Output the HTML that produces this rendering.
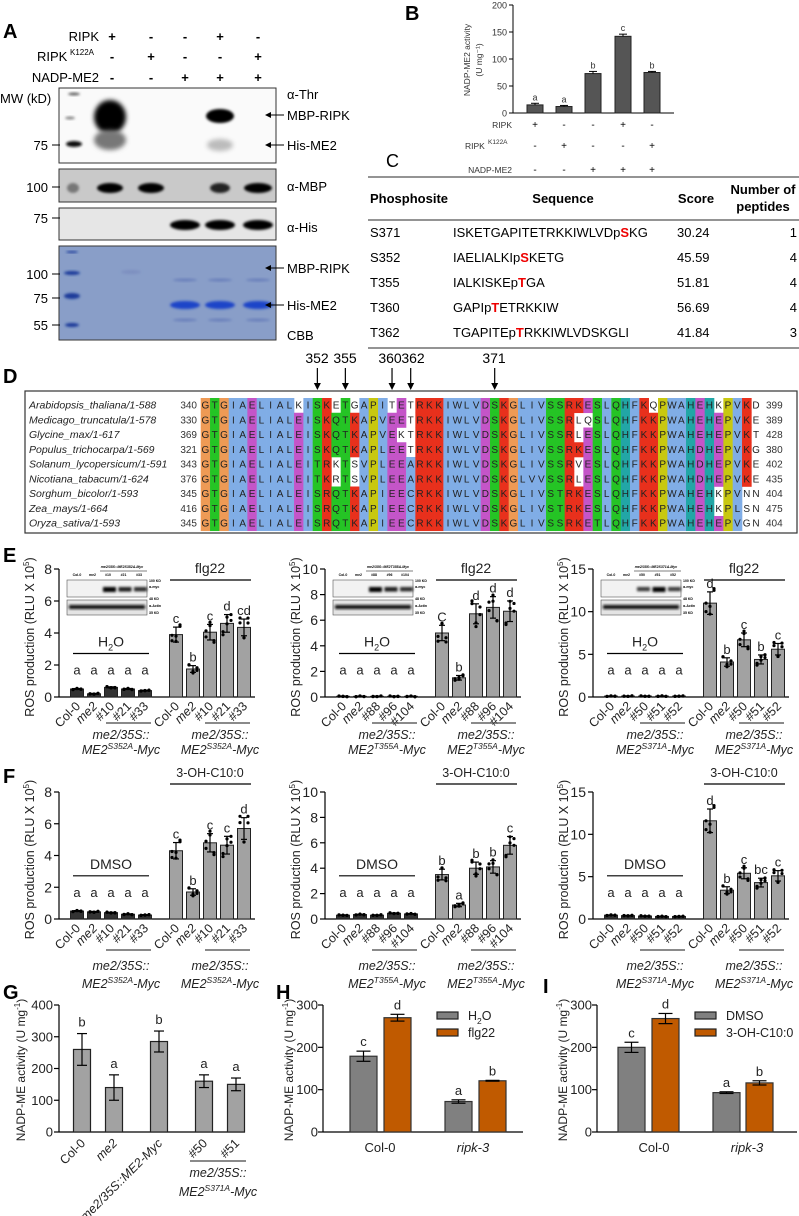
<!DOCTYPE html>
<html><head><meta charset="utf-8">
<style>
html,body{margin:0;padding:0;background:#fff;}
svg{display:block;font-family:"Liberation Sans",Arial,sans-serif;}
</style></head>
<body>
<svg id="s" width="799" height="1216" viewBox="0 0 799 1216" xmlns="http://www.w3.org/2000/svg">
<defs>
<filter id="bl" x="-50%" y="-50%" width="200%" height="200%"><feGaussianBlur stdDeviation="2.5"/></filter>
<filter id="bl1" x="-50%" y="-50%" width="200%" height="200%"><feGaussianBlur stdDeviation="1.2"/></filter>
<marker id="ar" markerWidth="6" markerHeight="6" refX="5" refY="3" orient="auto"><path d="M0,0 L6,3 L0,6 z" fill="#000"/></marker>
</defs>
<g id="root"></g>
</svg>
<script>
const NS="http://www.w3.org/2000/svg";
const root=document.getElementById('root');
function el(t,a,txt,parent){const e=document.createElementNS(NS,t);for(const k in a)e.setAttribute(k,a[k]);if(txt!==undefined)e.textContent=txt;(parent||root).appendChild(e);return e;}
function T(x,y,s,o){o=o||{};const a={x:x,y:y,'font-size':o.fs||12,fill:o.fill||'#000'};if(o.anchor)a['text-anchor']=o.anchor;if(o.it)a['font-style']='italic';if(o.b)a['font-weight']='bold';if(o.tr)a.transform=o.tr;if(o.ff)a['font-family']=o.ff;return el('text',a,s);}
function L(x1,y1,x2,y2,w,c){return el('line',{x1:x1,y1:y1,x2:x2,y2:y2,stroke:c||'#000','stroke-width':w||1});}
function R(x,y,w,h,f,st,sw){return el('rect',{x:x,y:y,width:w,height:h,fill:f,stroke:st||'none','stroke-width':sw||1});}

// ---------- Panel letters
T(3,38,'A',{fs:20,b:1});T(405,20,'B',{fs:20,b:1});T(386,167,'C',{fs:18});
T(3,383,'D',{fs:20,b:1});T(3,562,'E',{fs:20,b:1});T(3,783,'F',{fs:20,b:1});
T(3,999,'G',{fs:20,b:1});T(276,999,'H',{fs:20,b:1});T(543,993,'I',{fs:20,b:1});

// ---------- Panel A
const lanes=[112,151,185,220,258];
const hdr=[['RIPK',41,['+','-','-','+','-']],['RIPK',61,['-','+','-','-','+']],['NADP-ME2',82,['-','-','+','+','+']]];
hdr.forEach((h,i)=>{if(i==1){T(37,h[1],'RIPK',{fs:13});T(70,h[1]-6,'K122A',{fs:8});}else T(99,h[1],h[0],{fs:13,anchor:'end'});
 h[2].forEach((s,j)=>T(lanes[j],h[1],s,{fs:13,anchor:'middle',b:1}));});
T(0,103,'MW (kD)',{fs:13});
R(59,88,217,75,'#fafafa','#333',1);
el('ellipse',{cx:110,cy:117,rx:16,ry:17,fill:'#000',filter:'url(#bl)'});
el('ellipse',{cx:110,cy:140,rx:16,ry:10,fill:'#777',filter:'url(#bl)'});
el('ellipse',{cx:220,cy:116,rx:14,ry:7,fill:'#000',filter:'url(#bl1)'});
el('ellipse',{cx:220,cy:145,rx:13,ry:6,fill:'#bbb',filter:'url(#bl)'});
el('ellipse',{cx:74,cy:144,rx:8,ry:3,fill:'#111',filter:'url(#bl1)'});
el('ellipse',{cx:74,cy:94,rx:6,ry:1.5,fill:'#666',filter:'url(#bl1)'});
el('ellipse',{cx:70,cy:118,rx:5,ry:1.5,fill:'#888',filter:'url(#bl1)'});
R(59,169,217,33,'#c9c9c9','#333',1);
[[110,13,'#000'],[151,13,'#000'],[220,10,'#222'],[258,14,'#000'],[73,6,'#777']].forEach(b=>el('ellipse',{cx:b[0],cy:188,rx:b[1],ry:5,fill:b[2],filter:'url(#bl1)'}));
R(59,208,217,32,'#e6e6e6','#333',1);
[185,220,258].forEach(x=>el('ellipse',{cx:x,cy:225,rx:15,ry:5,fill:'#000',filter:'url(#bl1)'}));
R(59,246,217,94,'#90a4cc','#333',1);
el('rect',{x:60,y:247,width:215,height:92,fill:'#7f96c4',opacity:0.4});
[[72,273,8,2],[72,296,8,3],[72,325,7,2],[72,252,6,1]].forEach(b=>el('ellipse',{cx:b[0],cy:b[1],rx:b[2],ry:b[3],fill:'#1a3a9a',filter:'url(#bl1)'}));
[185,220,258].forEach(x=>{el('ellipse',{cx:x,cy:305,rx:15,ry:4,fill:'#1b45c8',filter:'url(#bl1)'});el('ellipse',{cx:x,cy:280,rx:12,ry:1.5,fill:'#6a80bb',filter:'url(#bl1)'});el('ellipse',{cx:x,cy:320,rx:12,ry:1.5,fill:'#6a80bb',filter:'url(#bl1)'});});
el('ellipse',{cx:131,cy:272,rx:10,ry:2,fill:'#7d8fc0',filter:'url(#bl1)'});
[[75,145],[100,187],[75,218],[100,274],[75,298],[55,325]].forEach(m=>{T(48,m[1]+5,String(m[0]),{fs:13,anchor:'end'});L(52,m[1],60,m[1],1);});
T(287,99,'α-Thr',{fs:13});T(287,191,'α-MBP',{fs:13});T(287,232,'α-His',{fs:13});T(287,340,'CBB',{fs:13});
[[115,'MBP-RIPK'],[145,'His-ME2'],[268,'MBP-RIPK'],[305,'His-ME2']].forEach(a=>{L(284,a[0],266,a[0],1).setAttribute('marker-end','url(#ar)');T(287,a[0]+5,a[1],{fs:13});});

// ---------- Panel B
(function(){const ax=513,y0=113,y1=5,sc=(y0-y1)/200;
L(ax,y1,ax,y0);L(ax,y0,674,y0);
[0,50,100,150,200].forEach(v=>{const y=y0-v*sc;L(ax-4,y,ax,y);T(ax-6,y+3.5,String(v),{fs:9,anchor:'end',fill:'#333'});});
const xs=[535,564,593,623,652],vals=[15,12,73,142,75],err=[3,2,4,4,2],let_=['a','a','b','c','b'];
xs.forEach((x,i)=>{const y=y0-vals[i]*sc;R(x-8,y,16,vals[i]*sc,'#555','#222',1);const e=err[i]*sc;L(x,y-e,x,y);L(x-4,y-e,x+4,y-e);T(x,y-e-3,let_[i],{fs:9,anchor:'middle',fill:'#333'});});
T(0,0,'NADP-ME2 activity',{fs:8.5,anchor:'middle',fill:'#333',tr:'translate(470,60) rotate(-90)'});
T(0,0,'(U mg⁻¹)',{fs:8.5,anchor:'middle',fill:'#333',tr:'translate(482,60) rotate(-90)'});
const rows=[['RIPK',128,['+','-','-','+','-']],['RIPK',149,['-','+','-','-','+']],['NADP-ME2',173,['-','-','+','+','+']]];
rows.forEach((r,i)=>{if(i==1){T(465,r[1],'RIPK',{fs:8.5,fill:'#333'});T(488,r[1]-5,'K122A',{fs:6.5,fill:'#333'});}else T(512,r[1],r[0],{fs:8.5,anchor:'end',fill:'#333'});r[2].forEach((s,j)=>T(xs[j],r[1],s,{fs:10,anchor:'middle'}));});
})();

// ---------- Panel C table
L(368,177,799,177,1.3,'#555');L(368,220,799,220,1.3,'#555');L(368,348,799,348,1.3,'#555');
T(370,203,'Phosphosite',{fs:13,b:1});T(563,203,'Sequence',{fs:13,b:1,anchor:'middle'});T(696,203,'Score',{fs:13,b:1,anchor:'middle'});
T(763,194,'Number of',{fs:13,b:1,anchor:'middle'});T(763,211,'peptides',{fs:13,b:1,anchor:'middle'});
const trows=[['S371',['ISKETGAPITETRKKIWLVDp','S','KG'],'30.24','1'],['S352',['IAELIALKIp','S','KETG'],'45.59','4'],['T355',['IALKISKEp','T','GA'],'51.81','4'],['T360',['GAPIp','T','ETRKKIW'],'56.69','4'],['T362',['TGAPITEp','T','RKKIWLVDSKGLI'],'41.84','3']];
trows.forEach((r,i)=>{const y=237+25*i;T(370,y,r[0],{fs:13});const t=T(453,y,'',{fs:13});
 r[1].forEach((p,k)=>{el('tspan',k==1?{fill:'#e00','font-weight':'bold'}:{},p,t);});
 T(677,y,r[2],{fs:13});T(797,y,r[3],{fs:13,anchor:'end'});});

// ---------- Panel D alignment
(function(){
const sp=[['Arabidopsis_thaliana/1-588',340,'GTGIAELIALKISKETGAPITETRKKIWLVDSKGLIVSSRKESLQHFKQPWAHEHKPVKD',399],
['Medicago_truncatula/1-578',330,'GTGIAELIALEISKQTKAPVEETRKKIWLVDSKGLIVSSRLQSLQHFKKPWAHEHEPVKE',389],
['Glycine_max/1-617',369,'GTGIAELIALEISKQTKAPVEKTRKKIWLVDSKGLIVSSRLESLQHFKKPWAHEHEPVKT',428],
['Populus_trichocarpa/1-569',321,'GTGIAELIALEISKQTKAPLEETRKKIWLVDSKGLIVSSRKESLQHFKKPWAHDHEPVKG',380],
['Solanum_lycopersicum/1-591',343,'GTGIAELIALEITRKTSVPLEEARKKIWLVDSKGLIVSSRVESLQHFKKPWAHDHEPVKE',402],
['Nicotiana_tabacum/1-624',376,'GTGIAELIALEITKRTSVPLEEARKKIWLVDSKGLVVSSRLESLQHFKKPWAHDHEPVKE',435],
['Sorghum_bicolor/1-593',345,'GTGIAELIALEISRQTKAPIEECRKKIWLVDSKGLIVSTRKESLQHFKKPWAHEHKPVNN',404],
['Zea_mays/1-664',416,'GTGIAELIALEISRQTKAPIEECRKKIWLVDSKGLIVSTRKESLQHFKKPWAHEHKPLSN',475],
['Oryza_sativa/1-593',345,'GTGIAELIALEISRQTKAPIEECRKKIWLVDSKGLIVSSRKETLQHFKKPWAHEHEPVGN',404]];
const cls=c=>'AILMFWVC'.includes(c)?'h':'KR'.includes(c)?'p':'ED'.includes(c)?'n':'NQST'.includes(c)?'s':c=='G'?'g':c=='P'?'P':'HY'.includes(c)?'y':'x';
const col={h:'#80ade6',p:'#e8301c',n:'#c455c8',s:'#25c425',g:'#ee9a55',P:'#c8c810',y:'#22a6a6'};
R(25,391,772,142,'#fff','#333',1.2);
const x0=200.7,cw=9.333,y0=398,rh=14.75;
for(let j=0;j<60;j++){const cnt={};sp.forEach(s=>{const k=cls(s[2][j]);cnt[k]=(cnt[k]||0)+1;});
 sp.forEach((s,i)=>{const c=s[2][j],k=cls(c);if(k!='x'&&cnt[k]>=5)R(x0+j*cw,y0+i*rh,cw+0.3,rh+0.3,col[k]);});}
sp.forEach((s,i)=>{const y=y0+i*rh+10.5;T(29,y,s[0],{fs:10.5,it:1,fill:'#222'});T(197,y,String(s[1]),{fs:10,anchor:'end',fill:'#333'});
 for(let j=0;j<60;j++)T(x0+j*cw+cw/2,y,s[2][j],{fs:10,anchor:'middle',fill:'#222'});T(766,y,String(s[3]),{fs:10,fill:'#333'});});
[[352,12],[355,15],[360,20],[362,22],[371,31]].forEach(a=>{const x=x0+a[1]*cw+cw/2;L(x,368,x,387,1.2);el('path',{d:`M${x-3.5},383 L${x+3.5},383 L${x},390 z`,fill:'#000'});});
T(317,363,'352',{fs:14,anchor:'middle'});T(345,363,'355',{fs:14,anchor:'middle'});T(390,363,'360',{fs:14,anchor:'middle'});T(413,363,'362',{fs:14,anchor:'middle'});T(494,363,'371',{fs:14,anchor:'middle'});
})();

// ---------- ROS panels
const offC=[18,35,52,69,86],offT=[117,134,151,168,185];
const tickLab=[['Col-0','me2','#10','#21','#33'],['Col-0','me2','#88','#96','#104'],['Col-0','me2','#50','#51','#52']];
const mut=['S352A','T355A','S371A'];
function ros(ax,yT,yB,max,step,ctrl,trt,letC,letT,ctrlName,trtName,gi,E){
 const sc=(yB-yT)/max;
 L(ax,yT,ax,yB,1.2);L(ax,yB,ax+196,yB,1.2);
 for(let v=0;v<=max;v+=step){const y=yB-v*sc;L(ax-5,y,ax,y,1.2);T(ax-7,y+5,String(v),{fs:14,anchor:'end',fill:'#222'});}
 const t=T(0,0,'ROS production (RLU X 10',{fs:12.5,anchor:'middle',fill:'#222',tr:`translate(${ax-25},${(yT+yB)/2+4}) rotate(-90)`});
 el('tspan',{dy:-5,'font-size':8},'5',t);el('tspan',{dy:5},')',t);
 const bar=(x,v)=>{const h=v*sc;R(x-6.5,yB-h,13,h,v<1?'#333':'#a2a2a2','#222',1);
  const e=Math.max(0.12*v,0.05)*sc*(v<1?0.5:1);L(x,yB-h-e,x,yB-h+e,1.2);L(x-3,yB-h-e,x+3,yB-h-e,1.2);L(x-3,yB-h+e,x+3,yB-h+e,1.2);
  for(let k=0;k<6;k++){const dy=(Math.sin(k*2.3+x)*1.3)*e;el('circle',{cx:x+((k%3)-1)*4,cy:yB-h+dy,r:1.6,fill:'#000'});}
  return yB-h-e;};
 const topC=ctrl.map((v,i)=>bar(ax+offC[i],v));
 const topT=trt.map((v,i)=>bar(ax+offT[i],v));
 const lc=yB-(max*0.175)*sc;
 offC.forEach((o,i)=>T(ax+o,Math.min(lc,topC[i]-4),letC[i],{fs:13,anchor:'middle',fill:'#222'}));
 offT.forEach((o,i)=>T(ax+o,topT[i]-4,letT[i],{fs:13,anchor:'middle',fill:'#222'}));
 const cl=yB-(max*0.34)*sc;
 L(ax+14,cl,ax+90,cl,1.2);
 const ct=T(ax+52,cl-7,ctrlName==='H2O'?'H':ctrlName,{fs:14,anchor:'middle',fill:'#222'});
 if(ctrlName==='H2O'){el('tspan',{dy:4,'font-size':9},'2',ct);el('tspan',{dy:-4},'O',ct);}
 const tl=E?yT+11:yT-8;
 L(ax+111,tl,ax+192,tl,1.2);T(ax+151,tl-7,trtName,{fs:E?14:12.5,anchor:'middle',fill:'#222'});
 [offC,offT].forEach(off=>off.forEach((o,i)=>{const lab=tickLab[gi][i];T(0,0,lab,{fs:12.5,anchor:'end',it:lab=='me2',fill:'#222',tr:`translate(${ax+o+4},${yB+10}) rotate(-45)`});}));
 const gl=yB+(E?26:31),g1=yB+(E?42:51),g2=yB+(E?57:69);
 [[offC,ax+62],[offT,ax+161]].forEach(g=>{L(ax+g[0][2]-5,gl,ax+g[0][4]+6,gl,1.2,'#444');
  T(g[1],g1,'me2/35S::',{fs:12.5,it:1,anchor:'middle',fill:'#222'});
  const t2=T(g[1],g2,'ME2',{fs:12.5,it:1,anchor:'middle',fill:'#222'});el('tspan',{dy:-5,'font-size':8.5},mut[gi],t2);el('tspan',{dy:5},'-Myc',t2);});
 if(E){
  const bx=ax+8;R(bx,yT+11,80,17,'#f2f2f2','#555',0.6);R(bx,yT+31,80,15,'#e4e4e4','#555',0.6);
  el('rect',{x:bx+2,y:yT+36,width:76,height:4,fill:'#111',filter:'url(#bl1)'});
  const ints=gi==2?[0,0,0.6,1,0.6]:[0,0,1,0.8,0.7];
  ints.forEach((v,k)=>{if(v>0)el('rect',{x:bx+5+k*15.5,y:yT+18,width:13,height:3+v*2,fill:'#000',opacity:0.4+0.6*v,filter:'url(#bl1)'});});
  ['Col-0','me2',tickLab[gi][2],tickLab[gi][3],tickLab[gi][4]].forEach((s,k)=>T(bx+10+k*15.5,yT+7,s,{fs:3.5,anchor:'middle',b:1}));
  T(bx+55,yT-1,'me2/35S::ME2'+mut[gi]+'-Myc',{fs:3.5,anchor:'middle',b:1,it:1});
  L(bx+33,yT+2,bx+80,yT+2,0.6);
  [['100 KD',yT+13],['α-myc',yT+19],['48 KD',yT+31],['α-Actin',yT+38],['35 KD',yT+45]].forEach(a=>T(bx+82,a[1],a[0],{fs:3.5,b:1}));
 }
}
ros(59,569,697,8,2,[0.5,0.2,0.6,0.5,0.4],[3.9,1.75,4.05,4.6,4.35],['a','a','a','a','a'],['c','b','c','d','cd'],'H2O','flg22',0,true);
ros(325,569,697,10,2,[0.05,0.05,0.05,0.05,0.05],[5.0,1.5,6.5,7.0,6.7],['a','a','a','a','a'],['C','b','d','d','d'],'H2O','flg22',1,true);
ros(593,569,697,15,5,[0.1,0.1,0.1,0.1,0.1],[11,4.1,6.7,4.4,5.6],['a','a','a','a','a'],['d','b','c','b','c'],'H2O','flg22',2,true);
ros(59,792,919,8,2,[0.5,0.45,0.4,0.3,0.25],[4.3,1.7,4.8,4.65,5.7],['a','a','a','a','a'],['c','b','c','c','d'],'DMSO','3-OH-C10:0',0,false);
ros(325,792,919,10,2,[0.3,0.35,0.3,0.45,0.4],[3.5,1.1,4.0,4.1,5.8],['a','a','a','a','a'],['b','a','b','b','c'],'DMSO','3-OH-C10:0',1,false);
ros(593,792,919,15,5,[0.45,0.4,0.35,0.3,0.3],[11.6,3.4,5.4,4.3,5.1],['a','a','a','a','a'],['d','b','c','bc','c'],'DMSO','3-OH-C10:0',2,false);

// ---------- G
(function(){const ax=59,yT=1005,yB=1132,sc=(yB-yT)/400;
L(ax,yT,ax,yB,1.2);L(ax,yB,245,yB,1.2);
[0,100,200,300,400].forEach(v=>{const y=yB-v*sc;L(ax-5,y,ax,y,1.2);T(ax-6,y+4.5,String(v),{fs:13,anchor:'end',fill:'#222'});});
const t=T(0,0,'NADP-ME activity (U mg',{fs:12,anchor:'middle',fill:'#222',tr:`translate(25,1070) rotate(-90)`});el('tspan',{dy:-5,'font-size':8},'-1',t);el('tspan',{dy:5},')',t);
const xs=[82,114,159,204,236],v=[260,140,285,160,150],e=[50,40,33,20,20],lt=['b','a','b','a','a'],lab=['Col-0','me2','me2/35S::ME2-Myc','#50','#51'];
xs.forEach((x,i)=>{const y=yB-v[i]*sc;R(x-8.5,y,17,v[i]*sc,'#a2a2a2','#222',1.2);const ee=e[i]*sc;L(x,y-ee,x,y+ee,1.2);L(x-5,y-ee,x+5,y-ee,1.2);L(x-5,y+ee,x+5,y+ee,1.2);T(x,y-ee-7,lt[i],{fs:13,anchor:'middle',fill:'#222'});
 T(0,0,lab[i],{fs:12.5,anchor:'end',it:i==1||i==2,fill:'#222',tr:`translate(${x+4},${yB+12}) rotate(-45)`});});
L(190,1161,246,1161,1.2,'#444');T(218,1177,'me2/35S::',{fs:12.5,it:1,anchor:'middle',fill:'#222'});
const t2=T(218,1196,'ME2',{fs:12.5,it:1,anchor:'middle',fill:'#222'});el('tspan',{dy:-5,'font-size':8.5},'S371A',t2);el('tspan',{dy:5},'-Myc',t2);
})();

// ---------- H & I
function hi(ax,bars,leg){const yT=1005,yB=1132,sc=(yB-yT)/300;
L(ax,yT,ax,yB,1.2);L(ax,yB,ax+200,yB,1.2);
[0,100,200,300].forEach(v=>{const y=yB-v*sc;L(ax-5,y,ax,y,1.2);T(ax-5,y+4.5,String(v),{fs:13,anchor:'end',fill:'#222'});});
const t=T(0,0,'NADP-ME activity (U mg',{fs:12,anchor:'middle',fill:'#222',tr:`translate(${ax-30},1070) rotate(-90)`});el('tspan',{dy:-5,'font-size':8},'-1',t);el('tspan',{dy:5},')',t);
bars.forEach(b=>{const x=ax+b[0],y=yB-b[1]*sc;R(x,y,27,b[1]*sc,b[3]?'#c05a00':'#808080','#333',1.2);const ee=b[2]*sc,c=x+13.5;L(c,y-ee,c,y+ee,1.2);L(c-7,y-ee,c+7,y-ee,1.2);L(c-7,y+ee,c+7,y+ee,1.2);T(c,y-ee-5,b[4],{fs:13,anchor:'middle',fill:'#222'});});
T(ax+57,1152,'Col-0',{fs:13,anchor:'middle',fill:'#222'});T(ax+150,1152,'ripk-3',{fs:13,anchor:'middle',it:1,fill:'#222'});
const lx=ax+leg[0];R(lx,1012,21,7,'#808080','#222',1.2);R(lx,1029,21,7,'#c05a00','#222',1.2);
const l1=T(lx+31,1020,leg[1],{fs:12.5,fill:'#222'});if(leg[1]==='H'){el('tspan',{dy:4,'font-size':8.5},'2',l1);el('tspan',{dy:-4},'O',l1);}
T(lx+31,1037,leg[2],{fs:12.5,fill:'#222'});}
hi(323,[[27,179,12,0,'c'],[61,270,8,1,'d'],[122,72,4,0,'a'],[156,121,1,1,'b']],[114,'H','flg22']);
hi(597,[[21,200,12,0,'c'],[55,268,12,1,'d'],[116,93,2,0,'a'],[149,116,5,1,'b']],[98,'DMSO','3-OH-C10:0']);
</script>
</body></html>
